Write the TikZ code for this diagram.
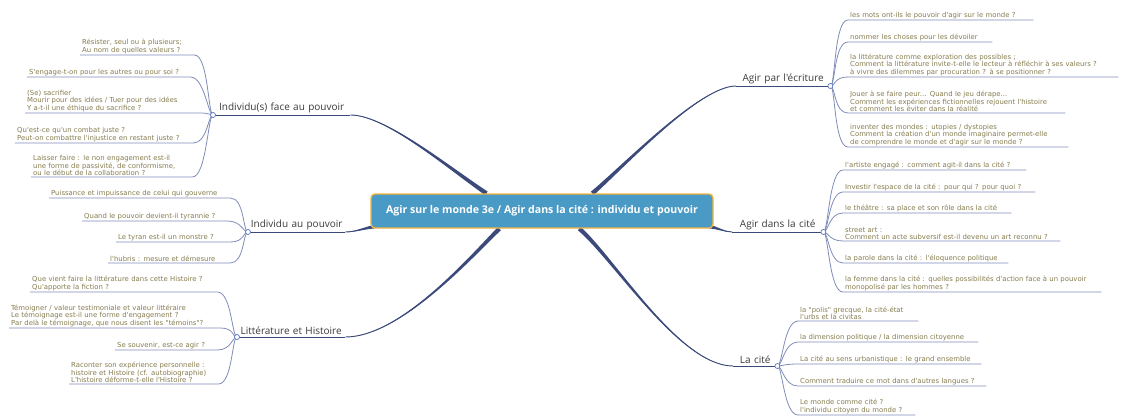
\documentclass[tikz,border=0pt]{standalone}
\usepackage{fontspec}
\setmainfont{DejaVu Sans}
\newfontfamily\leaffont{DejaVu Sans}
\newfontfamily\topicfont{Open Sans}
\usetikzlibrary{calc,backgrounds}
\definecolor{branchc}{HTML}{3B4A7A}
\definecolor{leafline}{HTML}{7F8CB8}
\definecolor{leaftext}{HTML}{857C4E}
\definecolor{topictext}{HTML}{3A3A3A}
\definecolor{boxfill}{HTML}{4A9AC6}
\definecolor{boxborder}{HTML}{F2B33D}
\definecolor{junc}{HTML}{5872C2}
\tikzset{
 leafnode/.style={font=\leaffont\fontsize{6.9}{7.4}\selectfont, text=leaftext, align=left, inner xsep=2pt, inner ysep=1pt, anchor=south west},
 topic/.style={font=\topicfont\fontsize{10}{11}\selectfont, text=topictext, align=center, inner xsep=0pt, inner ysep=2pt, anchor=south west},
 junction/.style={circle, draw=junc, fill=white, line width=0.7pt, inner sep=0pt, minimum size=5pt},
 leafcon/.style={draw=leafline, line width=0.8pt},
 topicline/.style={draw=branchc, line width=0.9pt},
 hub/.style={rounded corners=4pt, fill=boxfill, draw=boxborder, line width=1.3pt, minimum width=342pt, minimum height=34pt, text=white, font=\topicfont\bfseries\fontsize{10.6}{12}\selectfont}
}
\newcommand\leafLeft[2]{\draw[leafcon] (#1.center) .. controls +(-5,0) and +(14,0) .. (#2.south east) -- (#2.south west);}
\newcommand\leafRight[2]{\draw[leafcon] (#1.center) .. controls +(5,0) and +(-14,0) .. (#2.south west) -- (#2.south east);}
% start, c1, c2, end, perp x, perp y
\newcommand\branchfill[6]{%
 \fill[branchc] ($(#1)+({-(#5)},{-(#6)})$) .. controls ($(#2)+({-0.6*(#5)},{-0.6*(#6)})$) and ($(#3)+({-0.2*(#5)},{-0.2*(#6)})$) .. (#4)
   .. controls ($(#3)+({0.2*(#5)},{0.2*(#6)})$) and ($(#2)+({0.6*(#5)},{0.6*(#6)})$) .. ($(#1)+({#5},{#6})$) -- cycle;
 \draw[branchc, line width=0.9pt] (#1) .. controls (#2) and (#3) .. (#4);}
\begin{document}
\begin{tikzpicture}[x=1pt,y=-1pt]
\useasboundingbox (0,0) rectangle (1124,417);
% hub
\node[hub] (hub) at (542,211) {Agir sur le monde 3e / Agir dans la cité : individu et pouvoir};
% topics
\node[topic, text width=137pt] (t1) at (213,115) {Individu(s) face au pouvoir};
\node[topic, text width=97pt] (t2) at (248,232) {Individu au pouvoir};
\node[topic, text width=108pt] (t3) at (237,337) {Littérature et Histoire};
\node[topic, text width=94pt] (t4) at (736,86) {Agir par l'écriture};
\node[topic, text width=91pt] (t5) at (732,232) {Agir dans la cité};
\node[topic, text width=44pt] (t6) at (733,366) {La cité};
% junctions
\node[junction] (j1) at (t1.south west) {};
\node[junction] (j2) at (t2.south west) {};
\node[junction] (j3) at (t3.south west) {};
\node[junction] (j4) at (t4.south east) {};
\node[junction] (j5) at (t5.south east) {};
\node[junction] (j6) at (t6.south east) {};
% leaves group 1
\node[leafnode, text width=110pt] (a1) at (80,55) {Résister, seul ou à plusieurs;\\Au nom de quelles valeurs ?};
\node[leafnode, text width=159pt] (a2) at (27,77) {S'engage-t-on pour les autres ou pour soi ?};
\node[leafnode, text width=169pt] (a3) at (25,113) {(Se) sacrifier\\Mourir pour des idées / Tuer pour des idées\\Y a-t-il une éthique du sacrifice ?};
\node[leafnode, text width=174pt] (a4) at (15,143) {Qu'est-ce qu'un combat juste ?\\Peut-on combattre l'injustice en restant juste ?};
\node[leafnode, text width=157pt] (a5) at (31,177) {Laisser faire : le non engagement est-il\\une forme de passivité, de conformisme,\\ou le début de la collaboration ?};
% group 2
\node[leafnode, text width=177pt] (b1) at (49,198) {Puissance et impuissance de celui qui gouverne};
\node[leafnode, text width=141pt] (b2) at (82,221) {Quand le pouvoir devient-il tyrannie ?};
\node[leafnode, text width=110pt] (b3) at (116,242) {Le tyran est-il un monstre ?};
\node[leafnode, text width=118pt] (b4) at (108,263) {l'hubris : mesure et démesure};
% group 3
\node[leafnode, text width=183pt] (c1) at (30,292) {Que vient faire la littérature dans cette Histoire ?\\Qu'apporte la fiction ?};
\node[leafnode, text width=207pt] (c2) at (9,328) {Témoigner / valeur testimoniale et valeur littéraire\\Le témoignage est-il une forme d'engagement ?\\Par delà le témoignage, que nous disent les "témoins"?};
\node[leafnode, text width=98pt] (c3) at (115,350) {Se souvenir, est-ce agir ?};
\node[leafnode, text width=145pt] (c4) at (69,384) {Raconter son expérience personnelle :\\histoire et Histoire (cf. autobiographie)\\L'histoire déforme-t-elle l'Histoire ?};
% group 4
\node[leafnode, text width=181pt] (d1) at (848,20) {les mots ont-ils le pouvoir d'agir sur le monde ?};
\node[leafnode, text width=140pt] (d2) at (848,42) {nommer les choses pour les dévoiler};
\node[leafnode, text width=266pt] (d3) at (848,77) {la littérature comme exploration des possibles ;\\Comment la littérature invite-t-elle le lecteur à réfléchir à ses valeurs ?\\à vivre des dilemmes par procuration ? à se positionner ?};
\node[leafnode, text width=213pt] (d4) at (848,113) {Jouer à se faire peur... Quand le jeu dérape...\\Comment les expériences fictionnelles rejouent l'histoire\\et comment les éviter dans la réalité};
\node[leafnode, text width=216pt] (d5) at (848,147) {inventer des mondes : utopies / dystopies\\Comment la création d'un monde imaginaire permet-elle\\de comprendre le monde et d'agir sur le monde ?};
% group 5
\node[leafnode, text width=179pt] (e1) at (843,170) {l'artiste engagé : comment agit-il dans la cité ?};
\node[leafnode, text width=188pt] (e2) at (843,192) {Investir l'espace de la cité : pour qui ? pour quoi ?};
\node[leafnode, text width=164pt] (e3) at (843,213) {le théâtre : sa place et son rôle dans la cité};
\node[leafnode, text width=213pt] (e4) at (843,241) {street art :\\Comment un acte subversif est-il devenu un art reconnu ?};
\node[leafnode, text width=161pt] (e5) at (843,263) {la parole dans la cité : l'éloquence politique};
\node[leafnode, text width=254pt] (e6) at (843,292) {la femme dans la cité : quelles possibilités d'action face à un pouvoir\\monopolisé par les hommes ?};
% group 6
\node[leafnode, text width=116pt] (f1) at (798,321) {la "polis" grecque, la cité-état\\l'urbs et la civitas};
\node[leafnode, text width=176pt] (f2) at (798,342) {la dimension politique / la dimension citoyenne};
\node[leafnode, text width=179pt] (f3) at (798,364) {La cité au sens urbanistique : le grand ensemble};
\node[leafnode, text width=184pt] (f4) at (798,386) {Comment traduire ce mot dans d'autres langues ?};
\node[leafnode, text width=113pt] (f5) at (798,415) {Le monde comme cité ?\\l'individu citoyen du monde ?};
% attachment points on the hub
\coordinate (hTL) at ($(hub.north west)+(116,0)$);
\coordinate (hTR) at ($(hub.north west)+(222,0)$);
\coordinate (hBL) at ($(hub.south west)+(129,0)$);
\coordinate (hBR) at ($(hub.south west)+(209,0)$);
\coordinate (hL) at ($(hub.south west)+(4,-2)$);
\coordinate (hR) at ($(hub.south east)+(-4,-2)$);
\begin{pgfonlayer}{background}
 \branchfill{hTL}{445,165}{385,115}{t1.south east}{1.25}{-1.8}
 \branchfill{hTR}{625,165}{700,86}{t4.south west}{1.5}{1.6}
 \branchfill{hBL}{470,258}{400,337}{t3.south east}{1.55}{1.55}
 \branchfill{hBR}{615,260}{680,366}{t6.south west}{1.5}{-1.6}
 \branchfill{hL}{365,228}{355,232}{t2.south east}{0.3}{1.8}
 \branchfill{hR}{718,228}{725,232}{t5.south west}{-0.3}{1.8}
 \draw[topicline] (j1.center) -- (t1.south east);
 \draw[topicline] (j2.center) -- (t2.south east);
 \draw[topicline] (j3.center) -- (t3.south east);
 \draw[topicline] (t4.south west) -- (j4.center);
 \draw[topicline] (t5.south west) -- (j5.center);
 \draw[topicline] (t6.south west) -- (j6.center);
 \foreach \l in {a1,a2,a3,a4,a5} {\leafLeft{j1}{\l}}
 \foreach \l in {b1,b2,b3,b4} {\leafLeft{j2}{\l}}
 \foreach \l in {c1,c2,c3,c4} {\leafLeft{j3}{\l}}
 \foreach \l in {d1,d2,d3,d4,d5} {\leafRight{j4}{\l}}
 \foreach \l in {e1,e2,e3,e4,e5,e6} {\leafRight{j5}{\l}}
 \foreach \l in {f1,f2,f3,f4,f5} {\leafRight{j6}{\l}}
\end{pgfonlayer}
\end{tikzpicture}
\end{document}
